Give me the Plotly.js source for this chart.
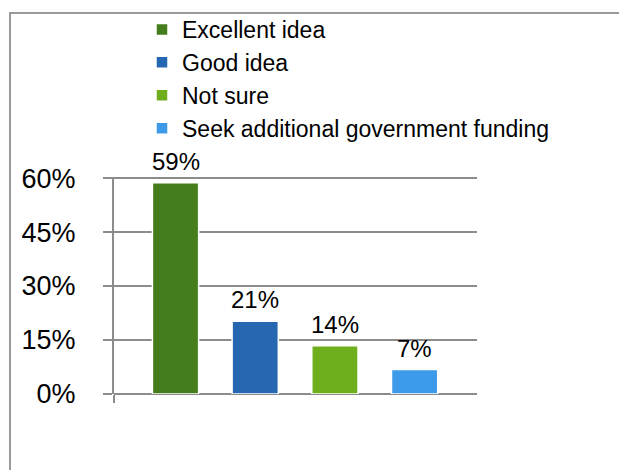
<!DOCTYPE html>
<html>
<head>
<meta charset="utf-8">
<script src="https://cdn.plot.ly/plotly-3.0.1.min.js"></script>
<style>
  html, body { margin: 0; padding: 0; background: #fff; overflow: hidden; }
  #wrap { position: relative; width: 619px; height: 470px; }
  #chart { position: absolute; left: 0; top: 0; width: 619px; height: 470px; }
  #frame { position: absolute; left: 9px; top: 12px; right: 0; bottom: 0;
           border-top: 2px solid #9a9a9a; border-left: 2px solid #9a9a9a; pointer-events: none; }
</style>
</head>
<body>
<div id="wrap">
  <div id="chart"></div>
  <div id="frame"></div>
</div>
<script>
// ---- data ----
const categories = ['Excellent idea', 'Good idea', 'Not sure', 'Seek additional government funding'];
const values = [58.7, 20.2, 13.4, 6.8];
const valueLabels = ['59%', '21%', '14%', '7%'];
const barColors = ['#457d1d', '#2568b1', '#6fae1d', '#3d9aea'];
const yTickVals = [0, 15, 30, 45, 60];
const yTickText = ['0%', '15%', '30%', '45%', '60%'];

// ---- styling ----
const FONT = 'Liberation Sans, Arial, Helvetica, sans-serif';
const GRID = '#8c8c8c';
const xRange = [-0.772, 3.783];
const yRange = [0, 60.3];
const M = { l: 114, r: 142, t: 177, b: 76 };
const W = 619, H = 470;
const plotW = W - M.l - M.r, plotH = H - M.t - M.b;

const traces = categories.map((name, i) => ({
  type: 'bar',
  name: name,
  x: [i],
  y: [values[i]],
  width: [0.58],
  marker: { color: barColors[i], line: { color: '#ffffff', width: 1.5 } },
  hoverinfo: 'skip'
}));

const annotations = categories.map((name, i) => ({
  x: i, y: values[i], xref: 'x', yref: 'y',
  text: valueLabels[i], showarrow: false,
  xanchor: 'center', yanchor: 'bottom', yshift: 6,
  font: { family: FONT, size: 24, color: '#000' }
}));

const layout = {
  width: W, height: H, autosize: false,
  margin: { l: M.l, r: M.r, t: M.t, b: M.b, pad: 0, autoexpand: false },
  paper_bgcolor: '#ffffff', plot_bgcolor: '#ffffff',
  barmode: 'overlay',
  showlegend: true,
  legend: {
    x: (142 - M.l) / plotW, y: (H - M.b - 8) / plotH,
    xanchor: 'left', yanchor: 'top',
    orientation: 'v', traceorder: 'normal',
    font: { family: FONT, size: 23, color: '#000' },
    bgcolor: 'rgba(0,0,0,0)'
  },
  xaxis: {
    range: xRange, showgrid: false, zeroline: false, showline: false,
    ticks: 'outside', tickvals: [xRange[0]], ticklen: 8, tickwidth: 2, tickcolor: GRID,
    showticklabels: false, fixedrange: true, automargin: false
  },
  yaxis: {
    range: yRange, tickvals: yTickVals, ticktext: yTickText,
    showgrid: true, gridcolor: GRID, gridwidth: 2,
    zeroline: true, zerolinecolor: GRID, zerolinewidth: 2,
    showline: true, linecolor: GRID, linewidth: 2,
    ticks: 'outside', ticklen: 9, tickwidth: 2, tickcolor: GRID,
    ticklabelstandoff: 22,
    tickfont: { family: FONT, size: 27, color: '#000' },
    fixedrange: true, automargin: false
  },
  annotations: annotations,
  font: { family: FONT, color: '#000' }
};

Plotly.newPlot('chart', traces, layout, { displayModeBar: false, staticPlot: true });
</script>
</body>
</html>
